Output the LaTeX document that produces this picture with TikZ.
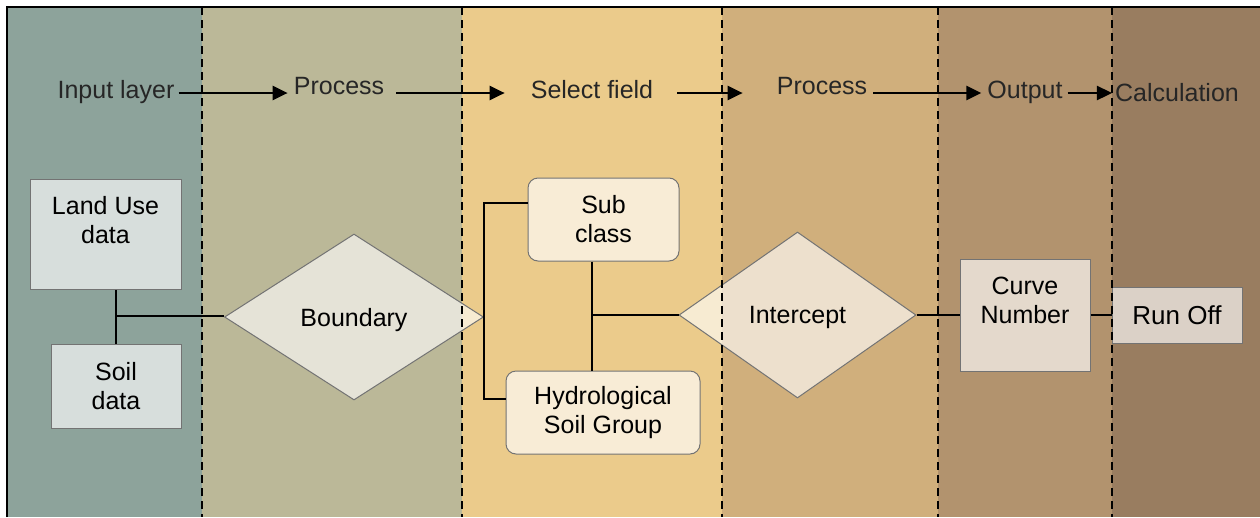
\documentclass[tikz,border=0pt]{standalone}
\usepackage{fontspec}
\setmainfont{Liberation Sans}
\usetikzlibrary{arrows.meta,shapes.geometric,calc}

\definecolor{laneA}{HTML}{8DA39B}
\definecolor{laneB}{HTML}{BBB898}
\definecolor{laneC}{HTML}{EBCB8B}
\definecolor{laneD}{HTML}{D0AF7C}
\definecolor{laneE}{HTML}{B2936E}
\definecolor{laneF}{HTML}{997D60}

\begin{document}
\begin{tikzpicture}[x=1pt, y=-1pt,
        font=\fontsize{25}{29}\selectfont,
        stage/.style={inner sep=0pt, anchor=base, text=black!85},
        flow/.style={-{Triangle[length=15pt,width=14pt]}, line width=2.5pt},
        block/.style={rectangle, draw=black!55, line width=1pt, fill=white, fill opacity=0.65, text opacity=1, align=center, inner sep=0pt},
        rblock/.style={block, rounded corners=10pt},
        decision/.style={diamond, draw=black!55, line width=1pt, fill=white, fill opacity=0.62, text opacity=1, inner sep=0pt, text depth=0pt},
        link/.style={line width=2pt},
        divider/.style={line width=2.4pt, dash pattern=on 8pt off 5pt}
    ]
        \useasboundingbox (0,0) rectangle (1260,517);

        % Lanes
        \fill[laneA] (7,7) rectangle (202,517);
        \fill[laneB] (202,7) rectangle (462,517);
        \fill[laneC] (462,7) rectangle (722,517);
        \fill[laneD] (722,7) rectangle (938,517);
        \fill[laneE] (938,7) rectangle (1112,517);
        \fill[laneF] (1112,7) rectangle (1260,517);
        \draw[line width=2pt] (7,517) -- (7,7) -- (1260,7);

        % Blocks
        \node[block, minimum width=151, minimum height=110] (landuse) at (105.5,234) {Land Use\\data\\~};
        \node[block, minimum width=130, minimum height=84] (soil) at (116,386) {Soil\\data};
        \node[decision, minimum width=259, minimum height=166] (boundary) at (354,317) {Boundary};
        \node[rblock, minimum width=151, minimum height=83] (subcls) at (603.5,219.5) {Sub\\class};
        \node[rblock, minimum width=194, minimum height=83] (hydro) at (603,412.5) {Hydrological\\Soil Group};
        \node[decision, minimum width=237, minimum height=166] (intercept) at (797.5,315) {Intercept};
        \node[block, minimum width=130, minimum height=112] (curve) at (1025,315) {Curve\\Number\\~};
        \node[block, minimum width=130, minimum height=56, font=\fontsize{26}{30}\selectfont] (runoff) at (1177,315) {Run Off};

        % Links
        \draw[link] (soil.north) -- (soil.north |- landuse.south);
        \draw[link] ($(soil.north |- boundary.west)+(0,-1)$) -- ($(boundary.west)+(0,-1)$);
        \draw[link] ($(subcls.west)+(0,-16.5)$) -| (boundary.east) |- ($(hydro.west)+(0,-13.5)$);
        \coordinate (tee) at ($(hydro.north)+(-11,0)$);
        \draw[link] (subcls.south -| tee) -- (tee);
        \draw[link] (intercept.west) -- (intercept.west -| tee);
        \draw[link] (intercept) -- (curve);
        \draw[link] (curve) -- (runoff);

        % Lane borders
        \foreach \x in {202,462,722,938,1112}
            \draw[divider] (\x,7) -- (\x,517);

        % Stages
        \node[stage] (inlay) at (116,98.7) {Input layer};
        \node[stage] (proc1) at (339,94.3) {Process};
        \node[stage] (selfld) at (592,98.3) {Select field};
        \node[stage] (proc2) at (822,94.3) {Process};
        \node[stage] (outp) at (1025,98) {Output};
        \node[stage] (calcn) at (1177,101) {Calculation};

        \draw[flow] ($(inlay.east |- 0,93)+(4,0)$) -- ($(proc1.west |- 0,93)+(-6,0)$);
        \draw[flow] ($(proc1.east |- 0,93)+(12,0)$) -- ($(selfld.west |- 0,93)+(-26,0)$);
        \draw[flow] ($(selfld.east |- 0,93)+(24,0)$) -- ($(proc2.west |- 0,93)+(-34,0)$);
        \draw[flow] ($(proc2.east |- 0,93)+(6,0)$) -- ($(outp.west |- 0,93)+(-6,0)$);
        \draw[flow] ($(outp.east |- 0,93)+(5,0)$) -- ($(calcn.west |- 0,93)+(-3,0)$);
    \end{tikzpicture}
\end{document}
